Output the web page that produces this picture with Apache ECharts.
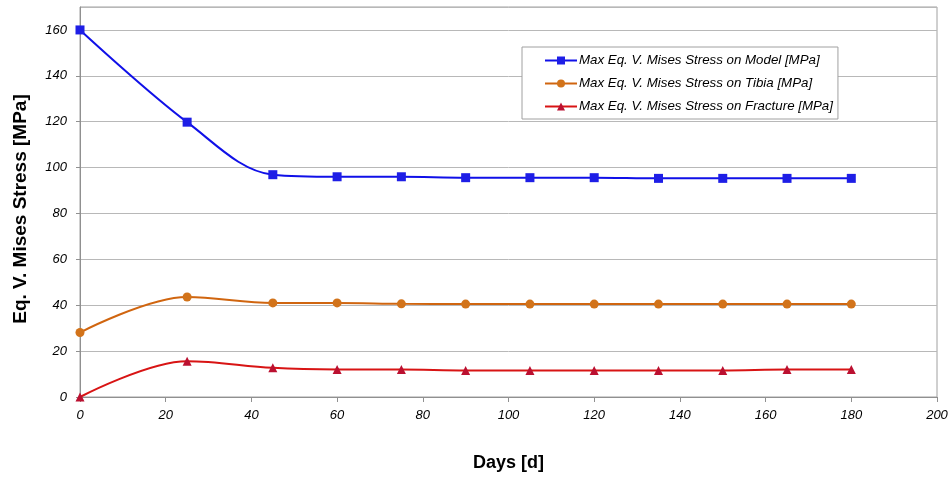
<!DOCTYPE html>
<html>
<head>
<meta charset="utf-8">
<script src="https://cdn.jsdelivr.net/npm/echarts@6/dist/echarts.min.js"></script>
<style>html,body{margin:0;padding:0;background:#fff;}#c{width:952px;height:477px;}</style>
</head>
<body>
<div id="c"></div>
<script>
var days = [0, 25, 45, 60, 75, 90, 105, 120, 135, 150, 165, 180];
var modelStress = [160, 119.8, 96.9, 96.0, 96.0, 95.6, 95.6, 95.6, 95.3, 95.3, 95.3, 95.3];
var tibiaStress = [28.1, 43.6, 41.0, 41.0, 40.6, 40.5, 40.5, 40.5, 40.5, 40.5, 40.5, 40.5];
var fractureStress = [0, 15.6, 12.7, 12.0, 12.0, 11.6, 11.6, 11.6, 11.6, 11.6, 12.0, 12.0];
var seriesNames = ['Max Eq. V. Mises Stress on Model [MPa]', 'Max Eq. V. Mises Stress on Tibia [MPa]', 'Max Eq. V. Mises Stress on Fracture [MPa]'];

function pairs(vals){ return days.map(function(d,i){ return [d, vals[i]]; }); }

var chart = echarts.init(document.getElementById('c'), null, {renderer:'canvas'});
chart.setOption({
  animation:false,
  backgroundColor:'#ffffff',
  grid:{left:80, right:15, top:7, bottom:80, show:true, borderColor:'#a0a0a0', borderWidth:1},
  legend:{
    orient:'vertical', left:522, top:47, padding:[7,5,6,22],
    itemGap:10, itemWidth:32, itemHeight:10,
    borderColor:'#a0a0a0', borderWidth:1, backgroundColor:'#fff',
    textStyle:{fontFamily:'Liberation Sans, Arial', fontStyle:'italic', fontSize:13.3, color:'#000', padding:[0,0,0,-3]},
    data:seriesNames
  },
  xAxis:{
    type:'value', min:0, max:200, interval:20,
    name:'Days [d]', nameLocation:'middle', nameGap:57,
    nameTextStyle:{fontFamily:'Liberation Sans, Arial', fontWeight:'bold', fontSize:18, color:'#000'},
    axisLine:{show:true, lineStyle:{color:'#909090'}},
    axisTick:{show:true, length:5, lineStyle:{color:'#909090'}},
    axisLabel:{fontFamily:'Liberation Sans, Arial', fontStyle:'italic', fontSize:13, color:'#000', margin:12},
    splitLine:{show:false}
  },
  yAxis:{
    type:'value', min:0, max:170, interval:20,
    name:'Eq. V. Mises Stress [MPa]', nameLocation:'middle', nameGap:50,
    nameTextStyle:{fontFamily:'Liberation Sans, Arial', fontWeight:'bold', fontSize:19, color:'#000', padding:[0,14,0,0]},
    axisLine:{show:true, lineStyle:{color:'#909090'}},
    axisTick:{show:true, length:4, lineStyle:{color:'#909090'}},
    axisLabel:{fontFamily:'Liberation Sans, Arial', fontStyle:'italic', fontSize:13, color:'#000', margin:13, showMaxLabel:false},
    splitLine:{show:true, lineStyle:{color:'#b8b8b8', width:1}}
  },
  series:[
    {name:seriesNames[0], type:'line', data:pairs(modelStress), smooth:0.35,
     symbol:'rect', symbolSize:9, lineStyle:{color:'#1010e8', width:2},
     itemStyle:{color:'#1e1ee6'}},
    {name:seriesNames[1], type:'line', data:pairs(tibiaStress), smooth:0.35,
     symbol:'circle', symbolSize:9, lineStyle:{color:'#d0650f', width:2},
     itemStyle:{color:'#d2731a'}},
    {name:seriesNames[2], type:'line', data:pairs(fractureStress), smooth:0.35,
     symbol:'triangle', symbolSize:9, lineStyle:{color:'#d81414', width:2},
     itemStyle:{color:'#bb1030'}}
  ]
});
</script>
</body>
</html>
